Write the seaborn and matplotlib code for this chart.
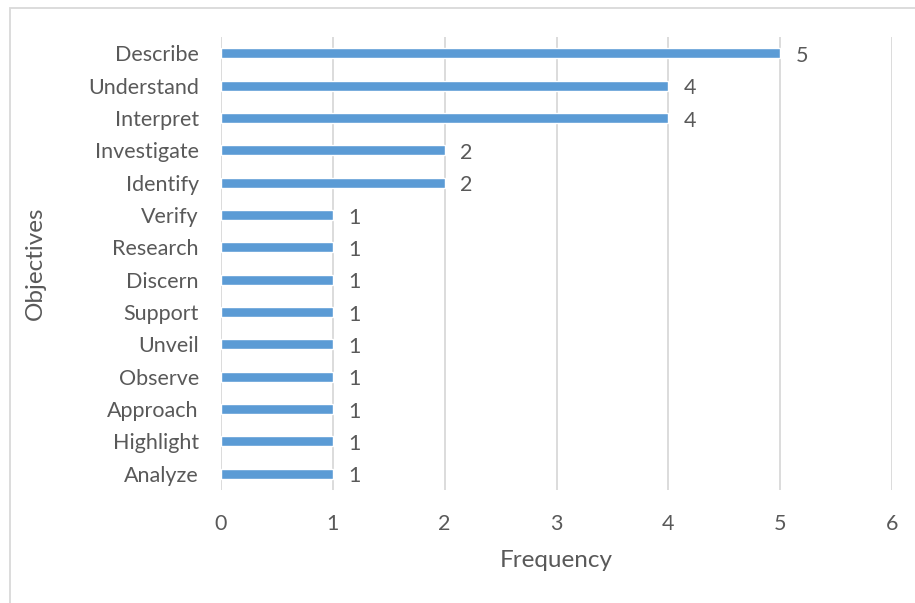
import pandas as pd
import seaborn as sns
from matplotlib import pyplot as plt
from matplotlib.patches import Rectangle

objectives = ['Describe', 'Understand', 'Interpret', 'Investigate', 'Identify', 'Verify',
              'Research', 'Discern', 'Support', 'Unveil', 'Observe', 'Approach',
              'Highlight', 'Analyze']
frequency = [5, 4, 4, 2, 2, 1, 1, 1, 1, 1, 1, 1, 1, 1]

df = pd.DataFrame({'Objectives': objectives, 'Frequency': frequency})

sns.set_style('white')
plt.rcParams['font.family'] = ['Lato', 'DejaVu Sans']
text_color = '#595959'

fig = plt.figure(figsize=(9.15, 6.03), dpi=100)
ax = fig.add_axes([0.2415, 0.1874, 0.7334, 0.7512])

sns.barplot(data=df, x='Frequency', y='Objectives', color='#5B9BD5',
            saturation=1, width=0.31, ax=ax, zorder=3)

ax.set_xlim(0, 6)
ax.set_ylim(13.5, -0.5)
ax.set_xticks(range(0, 7))
ax.grid(axis='x', color='#D9D9D9', linewidth=1.3, zorder=0)
for s in ax.spines.values():
    s.set_visible(False)
ax.tick_params(axis='both', length=0, labelsize=15.5, colors=text_color)
ax.tick_params(axis='y', pad=16)
ax.tick_params(axis='x', pad=17)
ax.set_xlabel('Frequency', fontsize=17.5, color=text_color, labelpad=12)
ax.set_ylabel('Objectives', fontsize=17.5, color=text_color, labelpad=30)

# value labels
for i, v in enumerate(frequency):
    ax.text(v + 0.14, i + 0.08, str(v), va='center', ha='left', fontsize=15.5, color=text_color)

# chart border
fig.patches.append(Rectangle((10 / 915, -0.05), 1.1, 1 - 8 / 603 + 0.05,
                             transform=fig.transFigure, fill=False,
                             edgecolor='#D9D9D9', linewidth=1.3))

fig.savefig('out.png', dpi=100)
